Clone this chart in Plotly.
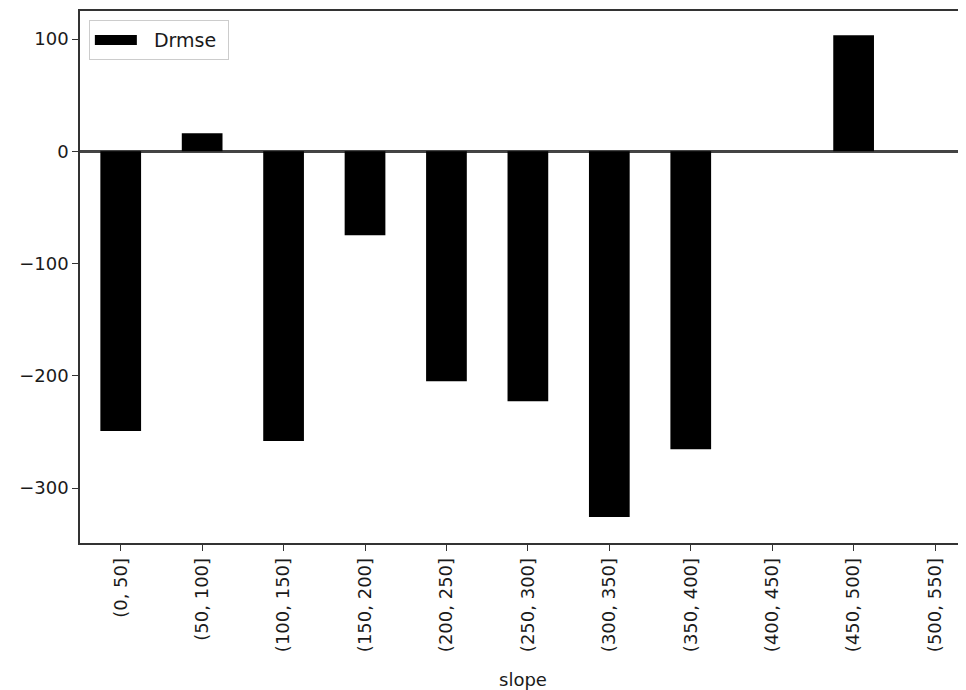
import plotly.graph_objects as go

categories = ["(0, 50]", "(50, 100]", "(100, 150]", "(150, 200]", "(200, 250]",
              "(250, 300]", "(300, 350]", "(350, 400]", "(400, 450]", "(450, 500]",
              "(500, 550]"]
drmse = [-249.3, 16.0, -258.2, -74.8, -204.8, -222.6, -325.9, -265.4, None, 103.3, None]
y_ticks = [-300, -200, -100, 0, 100]
y_tick_labels = ["\u2212300", "\u2212200", "\u2212100", "0", "100"]
series_name = "Drmse"

FONT = "DejaVu Sans"
TXT = "#1a1a1a"
AX = "#333333"
NB = "\u00a0"

fig = go.Figure()
fig.add_trace(go.Bar(
    x=categories, y=drmse, name=series_name,
    marker=dict(color="black", line=dict(width=0)),
    width=0.5, showlegend=False,
))
# legend entry drawn as a wide patch (matplotlib style)
fig.add_trace(go.Scatter(
    x=[None], y=[None], name=NB * 2 + series_name + NB, mode="lines",
    line=dict(color="black", width=13), showlegend=True, hoverinfo="skip",
))

fig.update_layout(
    width=958, height=682,
    margin=dict(l=72, r=0, t=3, b=147, autoexpand=False),
    paper_bgcolor="white", plot_bgcolor="white",
    font=dict(family=FONT, size=18, color=TXT),
    showlegend=True,
    legend=dict(x=0.010, y=0.983, xanchor="left", yanchor="top",
                bgcolor="rgba(255,255,255,0.8)", bordercolor="#cccccc", borderwidth=1,
                font=dict(family=FONT, size=19, color=TXT), itemwidth=42),
    bargap=0.5,
)
fig.update_xaxes(
    type="category", range=[-0.5, 10.38],
    showline=True, linecolor=AX, linewidth=1.5, mirror=True,
    ticks="outside", ticklen=6, tickcolor=AX, tickwidth=1.2,
    tickangle=-90, tickfont=dict(family=FONT, size=18, color=TXT),
    showgrid=False, automargin=False,
    title=dict(text="slope", font=dict(family=FONT, size=18, color=TXT), standoff=23),
)
fig.update_yaxes(
    range=[-349, 125],
    tickvals=y_ticks, ticktext=y_tick_labels,
    showline=True, linecolor=AX, linewidth=1.5, mirror=False,
    ticks="outside", ticklen=6, tickcolor=AX, tickwidth=1.2,
    tickfont=dict(family=FONT, size=18, color=TXT),
    showgrid=False, automargin=False,
    zeroline=True, zerolinecolor="#444444", zerolinewidth=2.5,
)

fig.write_html("out.html")
